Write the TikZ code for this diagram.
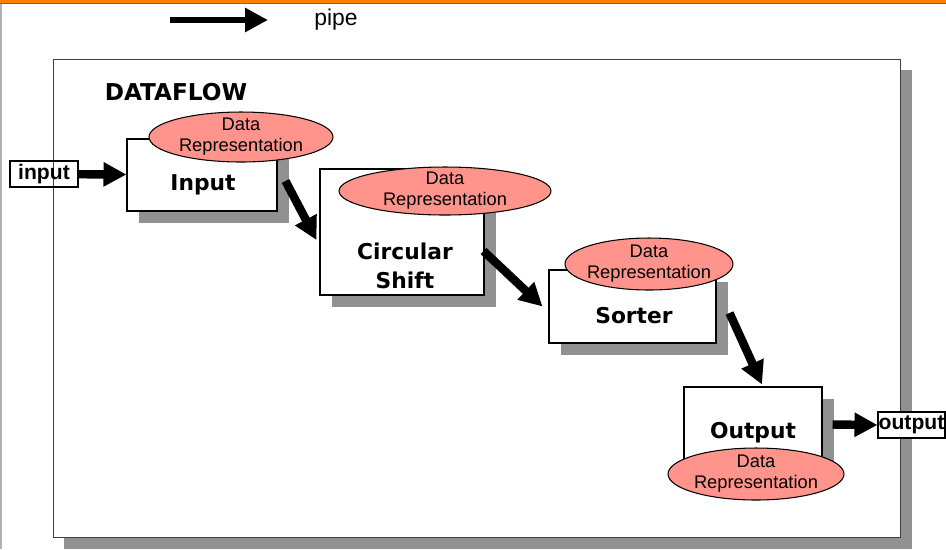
\documentclass[tikz,border=0pt]{standalone}
\usepackage{fontspec}
\setmainfont{Liberation Sans}
\newfontfamily\filterfont{DejaVu Sans}
\usetikzlibrary{arrows.meta,positioning,shapes.geometric,shadows,calc}
\definecolor{salmon}{RGB}{255,148,140}
\definecolor{shadowgray}{RGB}{145,145,145}
\definecolor{topbar}{RGB}{255,128,0}

\begin{document}
\begin{tikzpicture}[x=0.02cm,y=-0.02cm,
    pipe/.style={line width=4.8pt,-{Triangle[length=0.46cm,width=0.46cm]}},
    filter/.style={draw,fill=white,line width=0.6pt,inner sep=0pt,
        drop shadow={shadow xshift=0.24cm,shadow yshift=-0.24cm,fill=shadowgray,opacity=1}},
    filtertext/.style={align=center,inner sep=0pt,font=\filterfont\bfseries\fontsize{12.4}{16.4}\selectfont},
    datarep/.style={ellipse,draw,fill=salmon,line width=0.6pt,inner sep=0pt},
    reptext/.style={align=center,inner sep=0pt,font=\fontsize{10.4}{12}\selectfont},
    port/.style={draw,line width=0.6pt,inner sep=0pt,minimum height=0.52cm,
        font=\bfseries\fontsize{12}{14}\selectfont}]
    \useasboundingbox (0,0) rectangle (946,549);
    \fill[white] (0,0) rectangle (946,549);
    % slide border
    \fill[topbar] (0,0) rectangle (946,3);
    \draw[black!60,line width=0.4pt] (0,3.5) -- (946,3.5);
    \draw[black!30,line width=0.8pt] (1,4) -- (1,549);
    % legend
    \coordinate (legA) at (170,20);
    \coordinate (legB) at (268,20);
    \draw[pipe,line width=3.8pt] (legA) -- (legB);
    \node[anchor=west,inner sep=0pt,font=\fontsize{13}{15}\selectfont] (legtext) at (314,20) {pipe};
    % dataflow frame
    \node[draw=black!75,fill=white,line width=0.6pt,minimum width=16.96cm,minimum height=9.58cm,
        drop shadow={shadow xshift=0.22cm,shadow yshift=-0.22cm,fill=shadowgray,opacity=1}]
        (dataflow) at (477,298.5) {};
    \node[filtertext,font=\filterfont\bfseries\fontsize{13.2}{16}\selectfont] (dftitle) at (176,92) {DATAFLOW};
    % ports
    \node[port,minimum width=1.36cm] (inport) at (44,174) {input};
    \node[port,fill=white,minimum width=1.34cm] (outport) at (911.5,425) {output};
    % filters
    \node[filter,minimum width=3cm,minimum height=1.44cm] (inbox) at (202,175) {};
    \node[filtertext] (intext) at (203,185) {Input};
    \node[datarep,minimum width=3.68cm,minimum height=1cm] (rep1) at (241,137) {};
    \node[reptext] at (rep1) {Data\\Representation};

    \node[filter,minimum width=3.28cm,minimum height=2.52cm] (circ) at (402,232) {};
    \node[filtertext] (circtext) at (405,266) {Circular\\Shift};
    \node[datarep,minimum width=4.24cm,minimum height=0.96cm] (rep2) at (445,191) {};
    \node[reptext] at (rep2) {Data\\Representation};

    \node[filter,minimum width=3.34cm,minimum height=1.46cm] (sorter) at (632.5,306.5) {};
    \node[filtertext] (sortertext) at (634,316) {Sorter};
    \node[datarep,minimum width=3.36cm,minimum height=1.04cm] (rep3) at (649,264) {};
    \node[reptext] at (rep3) {Data\\Representation};

    \node[filter,minimum width=2.76cm,minimum height=1.5cm] (outbox) at (753,424.5) {};
    \node[filtertext] (outtext) at (753,433) {Output};
    \node[datarep,minimum width=3.52cm,minimum height=1.04cm] (rep4) at (756,474) {};
    \node[reptext] at (rep4) {Data\\Representation};
    % pipes
    \draw[pipe] (inport) -- (inbox);
    \draw[pipe] ($(inbox.east)+(8,6)$) -- ($(circ.west)+(-3,8)$);
    \draw[pipe] ($(circ.east)+(-1,19)$) -- ($(sorter.west)+(-6,0)$);
    \draw[pipe] ($(sorter.east)+(13,6.5)$) -- ($(outbox.north)+(9,-2)$);
    \draw[pipe] ($(outbox.east)+(10,0)$) -- (outport.west);
\end{tikzpicture}
\end{document}
